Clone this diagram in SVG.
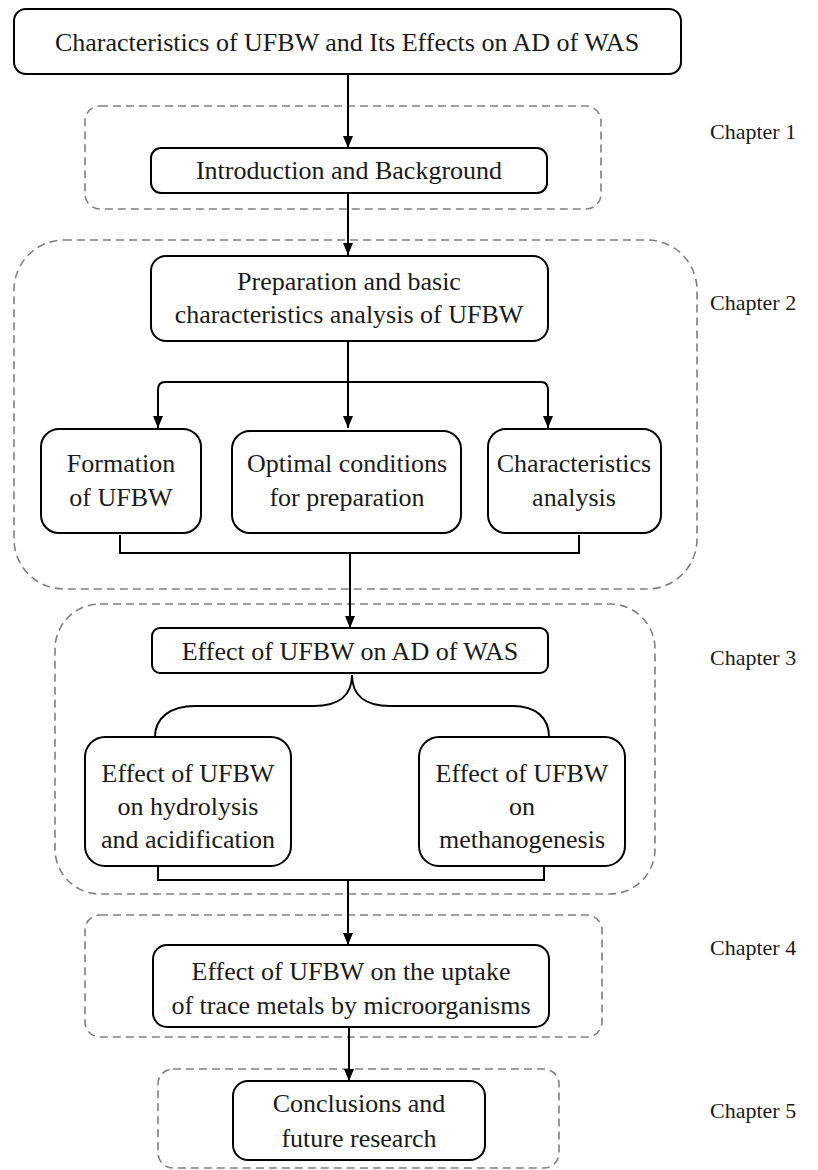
<svg xmlns="http://www.w3.org/2000/svg" width="818" height="1170" viewBox="0 0 818 1170" font-family="'Liberation Serif', 'Times New Roman', serif">
<defs>
<marker id="arr" markerUnits="userSpaceOnUse" markerWidth="12" markerHeight="10" refX="12" refY="5" orient="auto">
<path d="M0,0 L12,5 L0,10 z" fill="#000"/>
</marker>
<style>
.box{fill:#fff;stroke:#000;stroke-width:2}
.grp{fill:none;stroke:#808080;stroke-width:1.6;stroke-dasharray:8 5}
.ln{fill:none;stroke:#000;stroke-width:2}
</style>
</defs>
<rect width="818" height="1170" fill="#fff"/>
<g id="groups">
<rect class="grp" x="85" y="106" width="516" height="103" rx="15"/>
<rect class="grp" x="14" y="240" width="683" height="349" rx="50"/>
<rect class="grp" x="55" y="604" width="600" height="290" rx="45"/>
<rect class="grp" x="85" y="915" width="517" height="122" rx="15"/>
<rect class="grp" x="158" y="1069" width="401" height="99" rx="15"/>
</g>
<g id="connectors">
<path class="ln" d="M348,74 V148" marker-end="url(#arr)"/>
<path class="ln" d="M348,193 V255" marker-end="url(#arr)"/>
<path class="ln" d="M348,341 V428" marker-end="url(#arr)"/>
<path class="ln" d="M348,382 H165 Q158,382 158,390 V428" marker-end="url(#arr)"/>
<path class="ln" d="M348,382 H541 Q548,382 548,390 V428" marker-end="url(#arr)"/>
<path class="ln" d="M120,535 V553 H579 V535"/>
<path class="ln" d="M350,553 V628" marker-end="url(#arr)"/>
<path class="ln" d="M352,675 C352,695 365,706 390,706 H513 C536,706 549,718 549,737"/>
<path class="ln" d="M352,675 C352,695 339,706 314,706 H195 C170,706 155,718 155,737"/>
<path class="ln" d="M158,866 V880 H544 V866"/>
<path class="ln" d="M348,880 V945" marker-end="url(#arr)"/>
<path class="ln" d="M349,1027 V1081" marker-end="url(#arr)"/>
</g>
<g id="nodes" font-family="'Liberation Serif', serif" font-size="26" fill="#1a1a1a" text-anchor="middle">
<g id="n-title">
<rect class="box" x="14" y="9" width="667" height="65" rx="12"/>
<text x="347" y="51">Characteristics of UFBW and Its Effects on AD of WAS</text>
</g>
<g id="n-intro">
<rect class="box" x="151" y="148" width="396" height="45" rx="10"/>
<text x="349" y="179">Introduction and Background</text>
</g>
<g id="n-prep">
<rect class="box" x="151" y="256" width="397" height="85" rx="15"/>
<text x="349" y="290">Preparation and basic</text>
<text x="349" y="323">characteristics analysis of UFBW</text>
</g>
<g id="n-formation">
<rect class="box" x="41" y="429" width="160" height="104" rx="18"/>
<text x="121" y="472">Formation</text>
<text x="121" y="506">of UFBW</text>
</g>
<g id="n-optimal">
<rect class="box" x="232" y="431" width="229" height="102" rx="18"/>
<text x="347" y="472">Optimal conditions</text>
<text x="347" y="506">for preparation</text>
</g>
<g id="n-charan">
<rect class="box" x="488" y="429" width="173" height="104" rx="18"/>
<text x="574" y="472">Characteristics</text>
<text x="574" y="506">analysis</text>
</g>
<g id="n-effect">
<rect class="box" x="152" y="628" width="396" height="45" rx="8"/>
<text x="350" y="660">Effect of UFBW on AD of WAS</text>
</g>
<g id="n-hydro">
<rect class="box" x="85" y="737" width="206" height="129" rx="20"/>
<text x="188" y="782">Effect of UFBW</text>
<text x="188" y="815">on hydrolysis</text>
<text x="188" y="848">and acidification</text>
</g>
<g id="n-methano">
<rect class="box" x="419" y="737" width="206" height="129" rx="20"/>
<text x="522" y="782">Effect of UFBW</text>
<text x="522" y="815">on</text>
<text x="522" y="848">methanogenesis</text>
</g>
<g id="n-uptake">
<rect class="box" x="153" y="945" width="396" height="82" rx="14"/>
<text x="351" y="980">Effect of UFBW on the uptake</text>
<text x="351" y="1014">of trace metals by microorganisms</text>
</g>
<g id="n-concl">
<rect class="box" x="233" y="1081" width="252" height="79" rx="15"/>
<text x="359" y="1112">Conclusions and</text>
<text x="359" y="1147">future research</text>
</g>
</g>
<g id="labels" font-family="'Liberation Serif', serif" font-size="22" fill="#1a1a1a">
<text x="710" y="139">Chapter 1</text>
<text x="710" y="310">Chapter 2</text>
<text x="710" y="665">Chapter 3</text>
<text x="710" y="955">Chapter 4</text>
<text x="710" y="1118">Chapter 5</text>
</g>
</svg>
